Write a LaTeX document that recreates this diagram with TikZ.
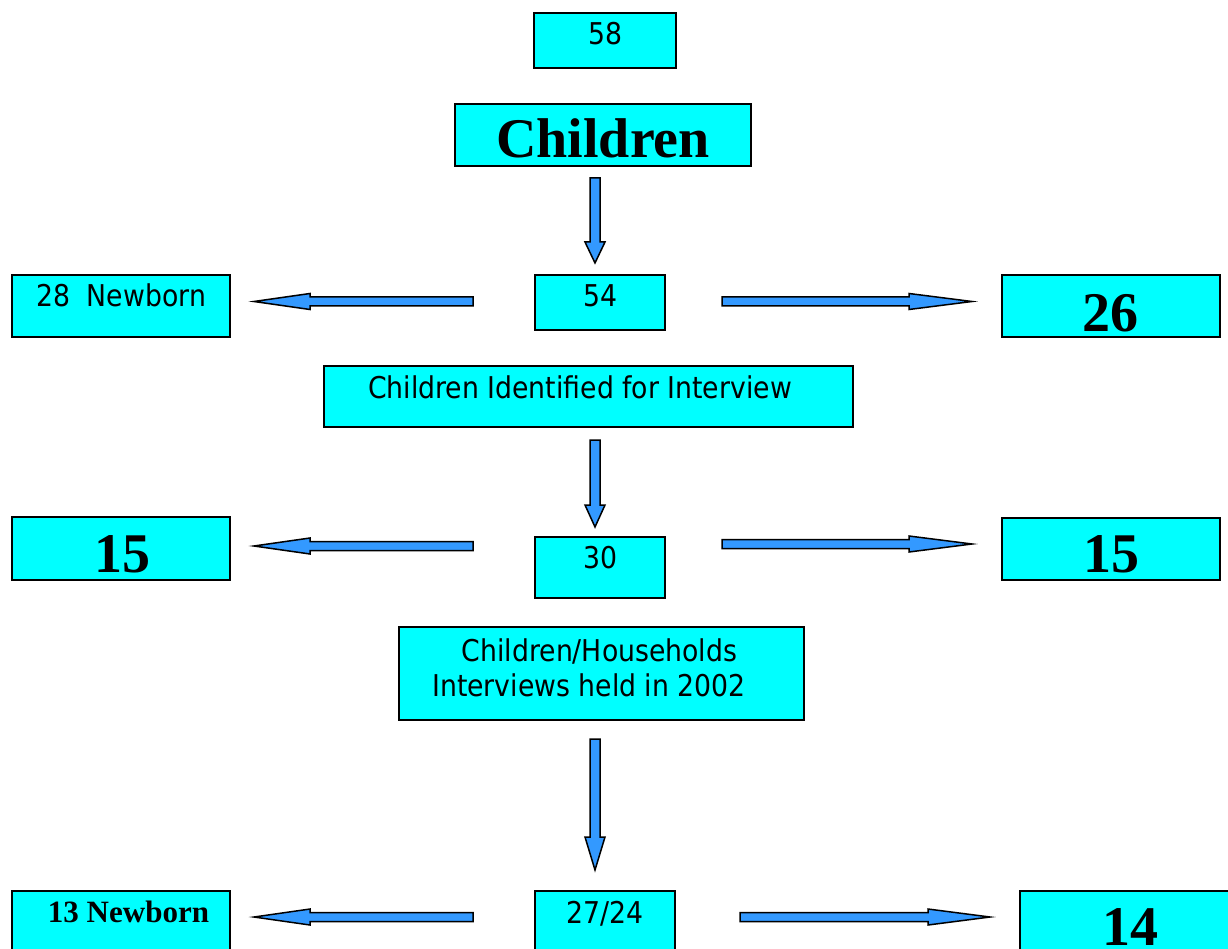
\documentclass[tikz,border=0pt]{standalone}
\usepackage{fontspec}
\setmainfont{Liberation Serif}
\newfontfamily\sansf[FakeStretch=0.89]{DejaVu Sans}
\definecolor{boxcyan}{HTML}{00FFFF}
\definecolor{arrblue}{HTML}{3399FF}
\tikzset{
  box/.style={draw=black, fill=boxcyan, line width=1.5pt, inner sep=0pt},
  sanslbl/.style={font=\sansf\fontsize{30}{35}\selectfont, inner sep=0pt, anchor=base},
  bigserif/.style={font=\bfseries\fontsize{56}{60}\selectfont, inner sep=0pt, anchor=base},
  smallserif/.style={font=\bfseries\fontsize{31}{35}\selectfont, inner sep=0pt, anchor=base},
  blk/.style={draw=black, fill=arrblue, line width=1.5pt, line join=miter}
}
% horizontal block arrow: y, tail x, head-base x, tip x
\newcommand\hblk[4]{%
  \filldraw[blk] (#2,#1-4.5) -- (#3,#1-4.5) -- (#3,#1-8) -- (#4,#1) -- (#3,#1+8) -- (#3,#1+4.5) -- (#2,#1+4.5) -- cycle;}
% vertical block arrow: x, tail y, head-base y, tip y
\newcommand\vblk[4]{%
  \filldraw[blk] (#1-5,#2) -- (#1-5,#3) -- (#1-10,#3) -- (#1,#4) -- (#1+10,#3) -- (#1+5,#3) -- (#1+5,#2) -- cycle;}
\begin{document}
\begin{tikzpicture}[x=1pt,y=-1pt]
\useasboundingbox (0,0) rectangle (1228,949);
\clip (0,0) rectangle (1228,949);
\fill[white] (0,0) rectangle (1228,949);
% boxes
\node[box, minimum width=142pt, minimum height=55pt] (b58) at (605,40.5) {};
\node[box, minimum width=296pt, minimum height=62pt] (bch) at (603,135) {};
\node[box, minimum width=218pt, minimum height=62pt] (b28) at (121,306) {};
\node[box, minimum width=130pt, minimum height=55pt] (b54) at (600,302.5) {};
\node[box, minimum width=218pt, minimum height=62pt] (b26) at (1111,306) {};
\node[box, minimum width=529pt, minimum height=61pt] (bid) at (588.5,396.5) {};
\node[box, minimum width=218pt, minimum height=63pt] (b15l) at (121,548.5) {};
\node[box, minimum width=130pt, minimum height=61pt] (b30) at (600,567.5) {};
\node[box, minimum width=218pt, minimum height=62pt] (b15r) at (1111,549) {};
\node[box, minimum width=405pt, minimum height=93pt] (bhh) at (601.5,673.5) {};
\node[box, minimum width=218pt, minimum height=80pt] (b13) at (121,931) {};
\node[box, minimum width=140pt, minimum height=80pt] (b2724) at (605,931) {};
\node[box, minimum width=220pt, minimum height=80pt] (b14) at (1130,931) {};
% texts
\node[sanslbl] (t58) at (605,45) {58};
\node[bigserif] (tch) at (603,158) {Children};
\node[sanslbl] (t28) at (121,307) {28\ \ Newborn};
\node[sanslbl] (t54) at (600,307) {54};
\node[bigserif] (t26) at (1110,331) {26};
\node[sanslbl] (tid) at (580,398) {Children Identified for Interview};
\node[bigserif] (t15l) at (122,572) {15};
\node[sanslbl] (t30) at (600,568) {30};
\node[bigserif] (t15r) at (1111,572) {15};
\node[sanslbl] (thh1) at (599.5,661) {Children/Households};
\node[sanslbl] (thh2) at (589,696) {Interviews held in 2002};
\node[smallserif] (t13) at (128.5,922) {13 Newborn};
\node[sanslbl] (t2724) at (605,923) {27/24};
\node[bigserif] (t14) at (1130,945) {14};
% arrows
\vblk{595}{178}{242}{263}
\vblk{595}{440}{505}{527}
\vblk{595}{739}{837}{870}
\hblk{301.5}{473}{310}{254}
\hblk{301.5}{722}{909}{972}
\hblk{546}{473}{310}{254}
\hblk{544}{722}{909}{972}
\hblk{917}{473}{310}{254}
\hblk{917}{740}{928}{990}
\end{tikzpicture}
\end{document}
